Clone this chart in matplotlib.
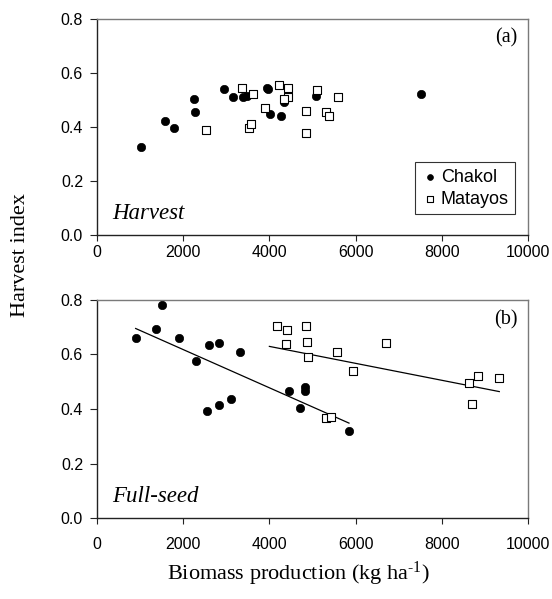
import numpy as np
import matplotlib
matplotlib.use("Agg")
import matplotlib.pyplot as plt

# (a) Harvest
harvest_chakol_x = [1013, 1570, 1787, 2258, 2282, 2954, 3148, 3380, 3473, 3937,
                    3967, 4006, 4269, 4339, 5081, 7525]
harvest_chakol_y = [0.325, 0.421, 0.398, 0.505, 0.454, 0.540, 0.512, 0.512, 0.516, 0.546,
                    0.542, 0.447, 0.440, 0.494, 0.516, 0.522]
harvest_matayos_x = [2521, 3357, 3627, 3527, 3573, 3906, 4215, 4432, 4432, 4339,
                     4842, 4842, 5104, 5321, 5383, 5585]
harvest_matayos_y = [0.390, 0.543, 0.523, 0.398, 0.412, 0.470, 0.556, 0.546, 0.512, 0.504,
                     0.459, 0.379, 0.538, 0.456, 0.441, 0.512]

# (b) Full-seed
fullseed_chakol_x = [897, 1376, 1516, 1895, 2289, 2599, 2838, 3318, 2545, 2838,
                     3102, 4462, 4819, 4819, 4718, 5847]
fullseed_chakol_y = [0.659, 0.694, 0.782, 0.659, 0.577, 0.634, 0.641, 0.610, 0.391, 0.414,
                     0.437, 0.466, 0.482, 0.467, 0.403, 0.319]
fullseed_matayos_x = [4176, 4416, 4842, 4393, 4865, 4896, 5576, 5947, 5321, 5422,
                      6705, 8624, 8840, 8693, 9334]
fullseed_matayos_y = [0.706, 0.690, 0.706, 0.639, 0.646, 0.591, 0.610, 0.539, 0.366, 0.370,
                      0.641, 0.494, 0.520, 0.418, 0.513]

# extent of the fitted regression lines in panel (b)
fit_extent_chakol = (897, 5847)
fit_extent_matayos = (4000, 9334)

x_ticks = [0, 2000, 4000, 6000, 8000, 10000]
y_ticks = [0.0, 0.2, 0.4, 0.6, 0.8]

SANS = "Liberation Sans"
SERIF = "Liberation Serif"

plt.rcParams["mathtext.fontset"] = "custom"
plt.rcParams["mathtext.rm"] = SERIF
plt.rcParams["mathtext.it"] = SERIF + ":italic"
plt.rcParams["mathtext.bf"] = SERIF + ":bold"

fig = plt.figure(figsize=(5.52, 5.99), dpi=100)
ax_a = fig.add_axes([0.1757, 0.6077, 0.7808, 0.3606])
ax_b = fig.add_axes([0.1757, 0.1352, 0.7808, 0.3640])


def style_axis(ax, xpad):
    ax.set_xlim(0, 10000)
    ax.set_ylim(0, 0.8)
    ax.set_xticks(x_ticks)
    ax.set_yticks(y_ticks)
    ax.set_xticklabels([str(t) for t in x_ticks], fontfamily=SANS, fontsize=11.5)
    ax.set_yticklabels([f"{t:.1f}" for t in y_ticks], fontfamily=SANS, fontsize=11.5)
    ax.tick_params(axis="y", direction="out", length=5, width=0.8, pad=5, color="#222222")
    ax.tick_params(axis="x", direction="out", length=4, width=0.8, pad=xpad, color="#222222")
    for side in ("left", "bottom"):
        ax.spines[side].set_color("#222222")
        ax.spines[side].set_linewidth(1.0)
    for side in ("top", "right"):
        ax.spines[side].set_color("#7a7a7a")
        ax.spines[side].set_linewidth(1.0)


def scatter_pair(ax, cx, cy, mx, my):
    h1 = ax.scatter(cx, cy, s=36, marker="o", facecolor="black", edgecolor="black",
                    linewidths=0.5, zorder=3, label="Chakol")
    h2 = ax.scatter(mx, my, s=30, marker="s", facecolor="white", edgecolor="black",
                    linewidths=0.8, zorder=3, label="Matayos")
    return h1, h2


# panel (a)
style_axis(ax_a, xpad=3)
scatter_pair(ax_a, harvest_chakol_x, harvest_chakol_y, harvest_matayos_x, harvest_matayos_y)
ax_a.text(0.975, 0.955, "(a)", transform=ax_a.transAxes, ha="right", va="top",
          fontfamily=SERIF, fontsize=14.5)
ax_a.text(0.035, 0.05, "Harvest", transform=ax_a.transAxes, ha="left", va="bottom",
          fontfamily=SERIF, fontstyle="italic", fontsize=16.5)
leg = ax_a.legend(loc="lower right", bbox_to_anchor=(0.97, 0.095), frameon=True,
                  fancybox=False, edgecolor="black", handletextpad=0.15,
                  handlelength=0.9, borderpad=0.35, borderaxespad=0.0,
                  labelspacing=0.3, prop={"family": SANS, "size": 13}, markerscale=0.7)
leg.get_frame().set_linewidth(0.8)

# panel (b)
style_axis(ax_b, xpad=10)
scatter_pair(ax_b, fullseed_chakol_x, fullseed_chakol_y, fullseed_matayos_x, fullseed_matayos_y)
for xs, ys, ext in ((fullseed_chakol_x, fullseed_chakol_y, fit_extent_chakol),
                    (fullseed_matayos_x, fullseed_matayos_y, fit_extent_matayos)):
    slope, intercept = np.polyfit(xs, ys, 1)
    xx = np.array(ext, dtype=float)
    ax_b.plot(xx, slope * xx + intercept, color="black", linewidth=0.9, zorder=2)
ax_b.text(0.975, 0.955, "(b)", transform=ax_b.transAxes, ha="right", va="top",
          fontfamily=SERIF, fontsize=14.5)
ax_b.text(0.035, 0.05, "Full-seed", transform=ax_b.transAxes, ha="left", va="bottom",
          fontfamily=SERIF, fontstyle="italic", fontsize=16.5)

fig.text(0.038, 0.575, "Harvest index", rotation=90, ha="center", va="center",
         fontfamily=SERIF, fontsize=16)
fig.text(0.54, 0.018, r"Biomass production (kg ha$^{\mathrm{\text{-}1}}$)", ha="center",
         va="bottom", fontfamily=SERIF, fontsize=16)

fig.savefig("out.png", dpi=100)
